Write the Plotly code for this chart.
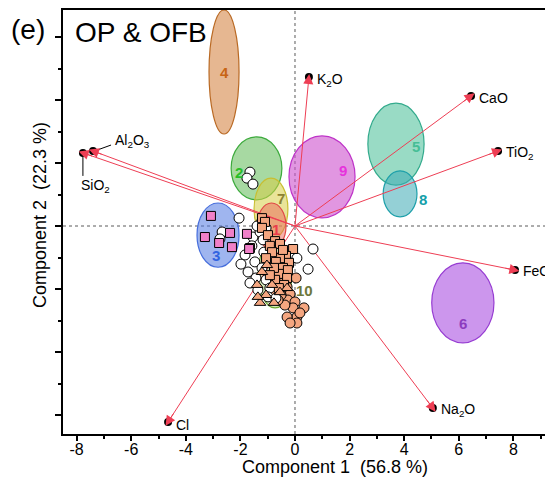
import plotly.graph_objects as go

# ---- variable loadings (biplot vectors) ----
oxide_labels = ["SiO<sub>2</sub>", "Al<sub>2</sub>O<sub>3</sub>", "K<sub>2</sub>O", "CaO",
                "TiO<sub>2</sub>", "FeO", "Na<sub>2</sub>O", "Cl"]
load_pc1 = [-7.77, -7.40, 0.51, 6.45, 7.44, 8.06, 5.05, -4.65]
load_pc2 = [2.32, 2.38, 4.73, 4.13, 2.38, -1.40, -5.78, -6.22]

# ---- confidence ellipses of the reference groups ----
ell_id = ["4", "2", "3", "10", "9", "7", "1", "5", "8", "6"]
ell_cx = [-2.60, -1.41, -2.82, -0.73, 0.99, -0.88, -0.86, 3.70, 3.85, 6.15]
ell_cy = [4.89, 1.83, -0.29, -1.52, 1.56, 0.54, 0.00, 2.60, 1.02, -2.44]
ell_rx = [0.55, 0.93, 0.77, 0.62, 1.21, 0.62, 0.53, 1.03, 0.62, 1.14]
ell_ry = [1.97, 1.00, 1.02, 1.08, 1.30, 0.98, 0.73, 1.30, 0.73, 1.27]
ell_lab_x = [-2.60, -2.05, -2.89, 0.33, 1.76, -0.51, -0.70, 4.43, 4.69, 6.15]
ell_lab_y = [4.86, 1.71, -0.95, -2.06, 1.75, 0.86, -0.10, 2.51, 0.83, -3.08]

# ---- sample scores ----
pink_sq_x = [-3.08, -3.30, -2.38, -2.78, -2.31, -1.76, -1.68]
pink_sq_y = [0.32, -0.35, -0.22, -0.54, -0.67, -0.25, -0.73]

white_x = [-1.65, -1.76, -1.54, -2.05, -2.67, -2.75, -1.54, -1.58, -1.28, -1.17,
           -1.83, -1.98, -1.47, -1.21, -1.72, -1.43, -1.06, -0.92, -1.36, -0.99,
           -0.70, -1.14, -0.92, -1.65, 0.07, 0.48, 0.66, -1.21, -1.39, -1.06]
white_y = [1.71, 1.52, 1.33, 0.25, -0.19, -0.41, -0.35, -0.63, -0.19, -0.44,
           -0.92, -1.21, -1.14, -1.33, -1.46, -1.65, -1.71, -1.97, -2.03, -2.25,
           -2.29, -0.83, -1.02, -1.81, -1.02, -1.37, -0.73, 0.16, 0.00, -0.06]

salmon_sq_x = [-1.21, -1.10, -1.21, -0.99, -0.73, -0.92, -0.55, -0.07, -0.33, -0.55,
               -0.70, -0.22, -0.44, -0.26, -0.59, -0.29, -0.73, -0.40, -0.84, -1.06,
               -0.77, -0.59, -0.92, -0.44, -1.65]
salmon_sq_y = [0.25, 0.13, -0.06, -0.29, -0.48, -0.63, -0.57, -0.73, -0.95, -1.02,
               -1.14, -1.17, -1.33, -1.40, -1.52, -1.65, -1.71, -1.87, -0.83, -1.02,
               -1.33, -1.97, -1.56, -0.76, -0.70]

salmon_ci_x = [0.04, -0.29, -0.18, -0.26, 0.00, -0.07, 0.33, 0.07, -0.29, 0.07,
               -0.18, 0.18, -0.51, -0.37, -0.62, -0.44, -0.70]
salmon_ci_y = [-1.65, -1.94, -2.16, -2.35, -2.41, -2.60, -2.60, -2.89, -2.89, -3.08,
               -3.08, -2.76, -2.19, -2.51, -2.35, -1.81, -2.10]

salmon_tr_x = [-1.39, -1.28, -0.77, -0.29, -1.21, -1.03, -0.84, -1.06, -0.55, -1.36]
salmon_tr_y = [-1.87, -2.44, -2.44, -1.97, -1.46, -1.24, -1.87, -2.19, -2.10, -2.25]

x_ticks = [-8, -6, -4, -2, 0, 2, 4, 6, 8]
x_tick_text = ["-8", "-6", "-4", "-2", "0", "2", "4", "6", "8"]

# ---- styles ----
FONT = "Liberation Sans, Arial, sans-serif"
RED = "rgb(238,62,84)"
SALMON = "rgb(244,166,128)"
PINK = "rgb(240,128,200)"

ell_fill = {
    "4": "rgba(214,138,78,0.62)", "2": "rgba(80,180,70,0.50)",
    "3": "rgba(80,120,225,0.55)", "10": "rgba(150,200,80,0.40)",
    "9": "rgba(205,80,205,0.60)", "7": "rgba(215,205,70,0.55)",
    "1": "rgba(235,100,90,0.50)", "5": "rgba(70,190,150,0.55)",
    "8": "rgba(60,170,180,0.55)", "6": "rgba(170,80,225,0.60)",
}
ell_line = {
    "4": "rgb(185,105,35)", "2": "rgb(60,170,60)", "3": "rgb(70,110,220)",
    "10": "rgb(110,170,50)", "9": "rgb(190,50,200)", "7": "rgb(200,190,50)",
    "1": "rgb(225,70,70)", "5": "rgb(50,170,140)", "8": "rgb(30,160,170)",
    "6": "rgb(150,60,210)",
}
ell_text = {
    "4": "rgb(200,100,20)", "2": "rgb(40,190,40)", "3": "rgb(50,100,225)",
    "10": "rgb(110,120,60)", "9": "rgb(230,50,220)", "7": "rgb(140,130,50)",
    "1": "rgb(235,60,75)", "5": "rgb(70,190,150)", "8": "rgb(20,160,170)",
    "6": "rgb(140,60,190)",
}
# label offsets (px) from each vector tip
lab_shift = [(-4, -33), (20, 10), (6, -3), (6, -2), (6, -2), (6, -1), (6, -2), (6, -3)]

fig = go.Figure()

# vector shafts
for vx, vy in zip(load_pc1, load_pc2):
    fig.add_trace(go.Scatter(x=[0, vx], y=[0, vy], mode="lines",
                             line=dict(color=RED, width=1), hoverinfo="skip"))

# sample points
def pts(x, y, symbol, color, size):
    fig.add_trace(go.Scatter(x=x, y=y, mode="markers",
                             marker=dict(symbol=symbol, color=color, size=size,
                                         line=dict(color="black", width=1))))

pts(salmon_ci_x, salmon_ci_y, "circle", SALMON, 10)
pts(white_x, white_y, "circle", "white", 10)
pts(salmon_sq_x, salmon_sq_y, "square", SALMON, 9)
pts(salmon_tr_x, salmon_tr_y, "triangle-up", SALMON, 10)
pts(pink_sq_x, pink_sq_y, "square", PINK, 9)

# black dots at the vector tips
fig.add_trace(go.Scatter(x=load_pc1, y=load_pc2, mode="markers",
                         marker=dict(symbol="circle", color="black", size=8)))

shapes = []
for g, cx, cy, rx, ry in zip(ell_id, ell_cx, ell_cy, ell_rx, ell_ry):
    shapes.append(dict(type="circle", xref="x", yref="y", layer="below",
                       x0=cx - rx, x1=cx + rx, y0=cy - ry, y1=cy + ry,
                       fillcolor=ell_fill[g], line=dict(color=ell_line[g], width=1.2)))
# dotted origin lines
shapes.append(dict(type="line", xref="x", yref="paper", x0=0, x1=0, y0=0, y1=1,
                   layer="below", line=dict(color="rgb(90,90,90)", width=1, dash="dot")))
shapes.append(dict(type="line", xref="paper", yref="y", x0=0, x1=1, y0=0, y1=0,
                   layer="below", line=dict(color="rgb(90,90,90)", width=1, dash="dot")))
# leader lines for the SiO2 / Al2O3 labels
shapes.append(dict(type="line", xref="x", yref="y", x0=-7.25, y0=2.41, x1=-6.74, y1=2.57,
                   line=dict(color="black", width=1)))
shapes.append(dict(type="line", xref="x", yref="y", x0=-7.77, y0=2.19, x1=-7.77, y1=1.59,
                   line=dict(color="black", width=1)))

annotations = []
# red arrowheads over the tip dots (short stub along each vector)
for vx, vy in zip(load_pc1, load_pc2):
    annotations.append(dict(x=vx * 1.02, y=vy * 1.02, ax=vx * 0.95, ay=vy * 0.95,
                            xref="x", yref="y", axref="x", ayref="y", text="",
                            showarrow=True, arrowhead=2, arrowsize=2, arrowwidth=1,
                            arrowcolor=RED, standoff=0))
for g, lx, ly in zip(ell_id, ell_lab_x, ell_lab_y):
    annotations.append(dict(x=lx, y=ly, xref="x", yref="y", text=f"<b>{g}</b>",
                            showarrow=False, font=dict(family=FONT, size=15, color=ell_text[g])))
for lab, vx, vy, (sx, sy) in zip(oxide_labels, load_pc1, load_pc2, lab_shift):
    annotations.append(dict(x=vx, y=vy, xref="x", yref="y", text=lab, showarrow=False,
                            xanchor="left", yanchor="middle", xshift=sx, yshift=sy,
                            font=dict(family=FONT, size=14, color="black")))

annotations += [
    dict(x=-0.112, y=0.953, xref="paper", yref="paper", text="(e)", showarrow=False,
         xanchor="left", yanchor="middle", font=dict(family=FONT, size=28, color="black")),
    dict(x=0.021, y=0.946, xref="paper", yref="paper", text="OP &amp; OFB", showarrow=False,
         xanchor="left", yanchor="middle", font=dict(family=FONT, size=28, color="black")),
    dict(x=(335 - 63) / 482, y=-(467 - 434) / 424, xref="paper", yref="paper",
         text="Component 1  (56.8 %)", showarrow=False, xanchor="center", yanchor="middle",
         font=dict(family=FONT, size=18, color="black")),
    dict(x=(40 - 63) / 482, y=(434 - 215) / 424, xref="paper", yref="paper",
         text="Component 2  (22.3 %)", showarrow=False, textangle=-90,
         xanchor="center", yanchor="middle", font=dict(family=FONT, size=18, color="black")),
]

fig.update_layout(
    width=545, height=479,
    margin=dict(l=63, r=0, t=10, b=45),
    paper_bgcolor="white", plot_bgcolor="white",
    showlegend=False,
    shapes=shapes, annotations=annotations,
    xaxis=dict(range=[-8.5, 9.16], showgrid=False, zeroline=False,
               showline=True, linecolor="black", linewidth=2, mirror=True,
               ticks="outside", ticklen=5, tickwidth=1.5, tickcolor="black",
               tickvals=x_ticks, ticktext=x_tick_text, ticklabelstandoff=-5,
               tickfont=dict(family=FONT, size=16, color="black"),
               minor=dict(dtick=1, ticks="outside", ticklen=3, tickwidth=1.5, tickcolor="black")),
    yaxis=dict(range=[-6.603, 6.857], showgrid=False, zeroline=False,
               showline=True, linecolor="black", linewidth=2,
               ticks="outside", ticklen=6, tickwidth=1.5, tickcolor="black",
               tickvals=[-6, -4, -2, 0, 2, 4, 6], showticklabels=False,
               minor=dict(dtick=1, ticks="outside", ticklen=3, tickwidth=1.5, tickcolor="black")),
)

fig.write_html("out.html")
